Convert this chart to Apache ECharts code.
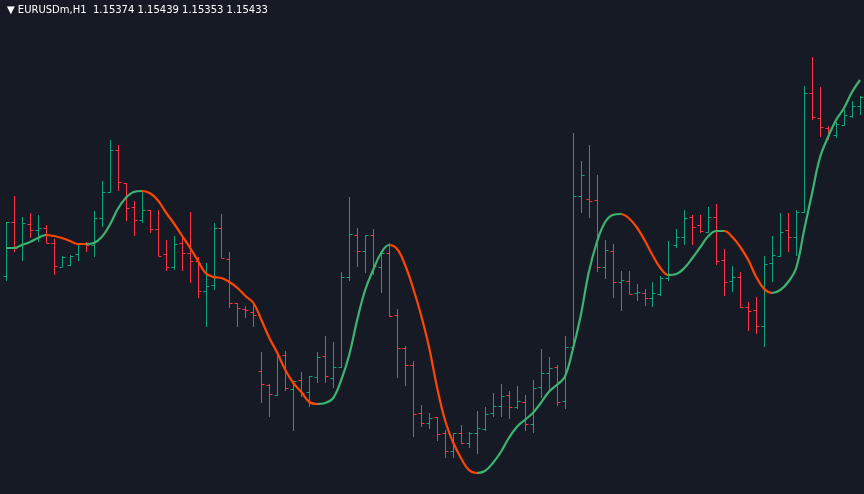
<!DOCTYPE html>
<html>
<head>
<meta charset="utf-8">
<script src="https://cdn.jsdelivr.net/npm/echarts@6/dist/echarts.min.js"></script>
<style>
html, body { margin: 0; padding: 0; background: #161a25; }
#chart { width: 864px; height: 494px; }
</style>
</head>
<body>
<div id="chart"></div>
<script>
// prices in points above 1.15000 (1 point = 0.00001)
var openPts = [254,308,285,306,300,302,287,263,265,276,286,285,312,338,380,347,323,310,320,301,
  276,263,287,277,269,239,245,302,271,227,221,218,159,145,135,175,141,150,138,153,
  174,152,163,253,295,279,295,263,277,215,182,165,117,107,113,97,79,97,87,97,
  101,117,124,135,123,128,106,143,157,163,129,183,334,331,330,263,279,248,249,237,
  237,232,236,252,285,293,313,305,298,313,270,249,253,223,220,204,267,274,300,293,
  318,437,412,402,395,405,414,424];
var highPts = [308,334,313,317,315,305,291,274,275,287,288,319,349,390,385,347,329,338,320,320,
  290,294,293,318,273,267,307,316,278,227,224,226,178,146,176,179,149,158,154,178,
  194,188,258,333,302,295,301,277,287,221,184,169,125,117,113,100,97,105,98,119,
  123,137,146,139,144,135,150,181,173,165,194,397,369,385,355,290,286,259,259,246,
  241,248,254,289,301,320,315,315,323,326,281,264,258,228,233,274,294,317,317,320,
  444,473,443,404,408,420,429,434];
var lowPts = [249,278,269,292,288,287,255,263,264,269,278,273,303,337,339,309,294,307,297,274,
  259,260,259,247,232,203,240,272,222,203,212,203,127,113,134,139,99,133,123,147,
  147,142,162,249,263,257,255,237,213,152,144,93,103,101,89,72,72,86,82,76,
  99,113,113,111,121,99,97,132,140,124,121,180,317,312,258,251,232,219,236,229,
  224,223,234,249,282,285,285,297,297,265,234,238,222,199,196,183,248,273,278,274,
  317,410,393,390,392,404,412,415];
var closePts = [308,282,307,300,302,287,264,273,274,286,285,312,338,380,348,322,310,320,301,274,
  263,286,277,269,239,244,302,272,227,222,220,215,146,136,174,142,149,137,154,173,
  154,163,253,296,279,295,264,277,214,182,165,116,107,112,96,79,97,87,97,102,
  116,124,134,123,129,106,142,157,162,128,183,334,355,329,263,280,248,250,236,238,
  232,237,252,255,293,312,303,299,313,269,248,253,223,219,204,266,275,298,293,318,
  437,413,403,400,406,415,424,433];
var smoothPts = [282,282,285,288,292,295,294,292,289,286,286,287,293,305,321,332,338,339,337,330,
  318,307,295,283,270,257,253,252,248,242,234,227,210,192,177,160,147,138,128,126,
  127,132,150,175,210,240,260,277,285,281,265,242,215,183,143,110,88,72,60,57,
  59,67,78,92,103,110,117,127,138,145,153,180,214,257,287,307,315,316,312,303,
  290,275,262,255,256,262,272,283,294,299,299,293,283,270,253,241,237,240,248,262,
  300,337,373,393,410,422,438,450];

var upColor = '#0fa57c';
var downColor = '#ff3344';
var lineUp = '#3cb371';
var lineDown = '#ff4500';

var cats = openPts.map(function (v, i) { return i; });
var ohlc = openPts.map(function (o, i) {
    return [i, o, highPts[i], lowPts[i], closePts[i]];
});
var lineData = smoothPts.map(function (v, i) { return [i, v]; });

// colour each segment of the smoothed line by its slope
var pieces = [];
var rising = true;
for (var i = 0; i < smoothPts.length - 1; i++) {
    if (smoothPts[i + 1] > smoothPts[i]) rising = true;
    else if (smoothPts[i + 1] < smoothPts[i]) rising = false;
    pieces.push({ gte: i, lt: i + 1, color: rising ? lineUp : lineDown });
}
pieces[pieces.length - 1].lte = smoothPts.length;

function renderBar(params, api) {
    var x = api.value(0);
    var o = api.coord([x, api.value(1)]);
    var h = api.coord([x, api.value(2)]);
    var l = api.coord([x, api.value(3)]);
    var c = api.coord([x, api.value(4)]);
    var color = api.value(4) >= api.value(1) ? upColor : downColor;
    var cx = Math.round(o[0]) + 0.5;
    var oy = Math.round(o[1]) + 0.5;
    var cy = Math.round(c[1]) + 0.5;
    var st = { stroke: color, lineWidth: 1 };
    return {
        type: 'group',
        children: [
            { type: 'line', shape: { x1: cx, y1: Math.round(h[1]), x2: cx, y2: Math.round(l[1]) }, style: st },
            { type: 'line', shape: { x1: cx - 3, y1: oy, x2: cx, y2: oy }, style: st },
            { type: 'line', shape: { x1: cx, y1: cy, x2: cx + 3, y2: cy }, style: st }
        ]
    };
}

var myChart = echarts.init(document.getElementById('chart'));
myChart.setOption({
    backgroundColor: '#161a25',
    animation: false,
    title: {
        text: '▼ EURUSDm,H1  1.15374 1.15439 1.15353 1.15433',
        left: 2,
        top: 0,
        textStyle: { color: '#ffffff', fontSize: 10, fontWeight: 'normal', fontFamily: 'DejaVu Sans' }
    },
    grid: { left: 2, right: -2, top: 0, bottom: 0 },
    xAxis: {
        type: 'category',
        data: cats,
        boundaryGap: true,
        show: false
    },
    yAxis: {
        type: 'value',
        min: 36,
        max: 530,
        show: false
    },
    visualMap: {
        show: false,
        type: 'piecewise',
        dimension: 0,
        seriesIndex: 1,
        pieces: pieces
    },
    series: [
        {
            type: 'custom',
            renderItem: renderBar,
            data: ohlc,
            encode: { x: 0, y: [1, 2, 3, 4] },
            z: 1
        },
        {
            type: 'line',
            data: lineData,
            smooth: 0.4,
            symbol: 'none',
            lineStyle: { width: 2.2 },
            z: 2
        }
    ]
});
</script>
</body>
</html>
